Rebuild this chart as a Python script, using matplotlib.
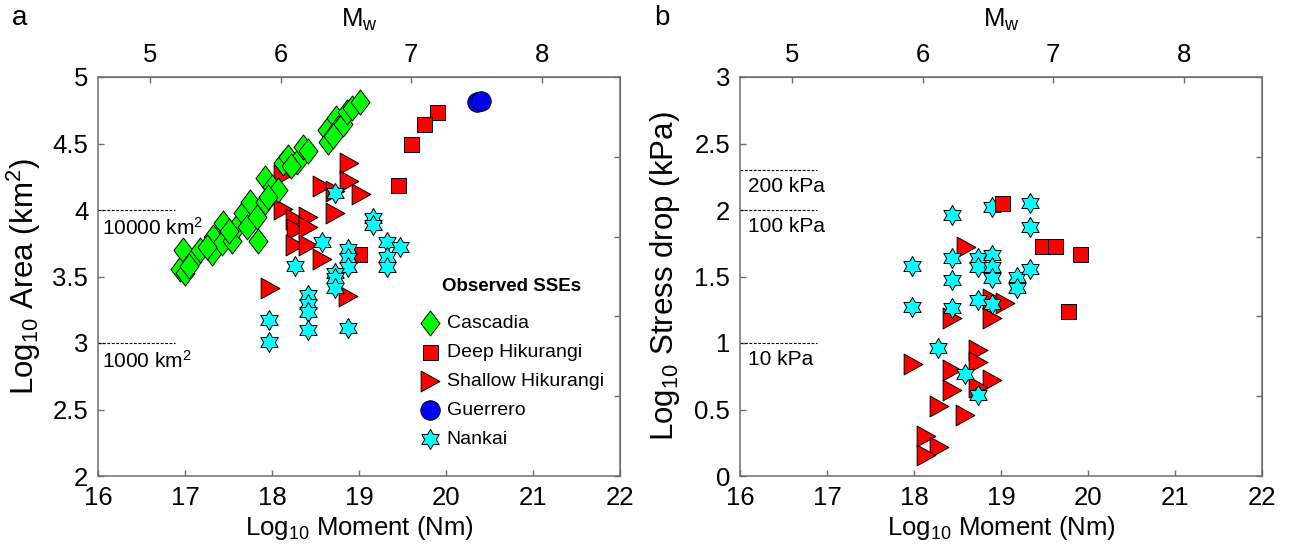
import numpy as np
import matplotlib
matplotlib.use("Agg")
import matplotlib.pyplot as plt
from matplotlib.path import Path

plt.rcParams['font.family'] = ['Liberation Sans', 'DejaVu Sans']
plt.rcParams['mathtext.default'] = 'regular'

# ---------------- data (panel a: log10 moment vs log10 area) ----------------
casc_m = [16.94, 17.00, 16.98, 17.08, 17.17, 17.31, 17.32, 17.43, 17.44, 17.54,
          17.61, 17.67, 17.71, 17.75, 17.83, 17.84, 17.92, 17.92, 18.00, 18.07,
          18.13, 18.18, 18.29, 18.36, 18.41, 18.63, 18.64, 18.74, 18.76, 18.82,
          18.86, 18.92, 19.01, 17.05, 17.25, 17.50, 17.95, 18.22, 18.70]
casc_a = [3.56, 3.53, 3.70, 3.62, 3.70, 3.68, 3.80, 3.75, 3.90, 3.77,
          3.89, 3.98, 3.87, 4.06, 3.95, 3.77, 4.06, 4.24, 4.17, 4.15,
          4.35, 4.40, 4.36, 4.47, 4.44, 4.60, 4.51, 4.69, 4.62, 4.65,
          4.74, 4.77, 4.81, 3.58, 3.72, 3.84, 4.10, 4.33, 4.56]

deep_m_a = [19.90, 19.75, 19.60, 19.45, 19.00]
deep_a = [4.74, 4.65, 4.50, 4.19, 3.67]

shal_m_a = [18.13, 18.13, 18.26, 18.28, 18.41, 18.41, 18.26, 18.41, 18.57,
            18.72, 18.72, 18.89, 18.89, 19.02, 18.57, 17.98, 18.87]
shal_a = [4.26, 4.01, 3.93, 3.86, 3.95, 3.87, 3.74, 3.74, 4.18,
          4.14, 3.98, 4.35, 4.22, 4.12, 3.63, 3.41, 3.35]

guer_m = [20.36, 20.40]
guer_a = [4.81, 4.82]

nank_m_a = [18.72, 19.16, 19.16, 18.57, 18.26, 18.87, 18.87, 18.87, 18.72, 18.72,
            18.72, 19.32, 19.47, 19.32, 19.32, 18.41, 18.41, 18.41, 18.41, 17.97,
            17.97, 18.87]
nank_a = [4.13, 3.94, 3.89, 3.76, 3.58, 3.71, 3.64, 3.57, 3.53, 3.49,
          3.41, 3.76, 3.72, 3.65, 3.57, 3.36, 3.29, 3.23, 3.10, 3.17,
          3.01, 3.11]

# ---------------- data (panel b: log10 moment vs log10 stress drop) ----------------
deep_m_b = [19.01, 19.47, 19.62, 19.91, 19.77]
deep_s = [2.05, 1.73, 1.73, 1.67, 1.24]

shal_m_b = [18.60, 18.90, 19.05, 18.90, 18.44, 17.99, 18.44, 18.74, 18.74,
            18.90, 18.44, 18.74, 18.29, 18.59, 18.14, 18.29, 18.14]
shal_s = [1.72, 1.33, 1.30, 1.19, 1.19, 0.84, 0.80, 0.95, 0.86,
          0.72, 0.65, 0.67, 0.53, 0.46, 0.30, 0.22, 0.16]

nank_m_b = [17.98, 17.98, 18.44, 18.44, 18.44, 18.44, 18.90, 19.33, 19.33, 18.74,
            18.74, 18.90, 18.90, 18.90, 19.18, 19.18, 19.33, 18.74, 18.90, 18.28,
            18.59, 18.74]
nank_s = [1.58, 1.27, 1.96, 1.64, 1.47, 1.26, 2.02, 2.05, 1.87, 1.64,
          1.57, 1.66, 1.57, 1.49, 1.50, 1.41, 1.56, 1.32, 1.29, 0.96,
          0.77, 0.61]

xticks = [16, 17, 18, 19, 20, 21, 22]
mw_ticks = [5, 6, 7, 8]
yticks_a = [2, 2.5, 3, 3.5, 4, 4.5, 5]
yticks_b = [0, 0.5, 1, 1.5, 2, 2.5, 3]
area_refs = [4.0, 3.0]
area_ref_labels = ['10000 km$^2$', '1000 km$^2$']
stress_refs = [np.log10(200), 2.0, 1.0]
stress_ref_labels = ['200 kPa', '100 kPa', '10 kPa']

# ---------------- marker shapes ----------------
def star6():
    ang = np.pi / 2 + np.arange(12) * np.pi / 6
    r = np.where(np.arange(12) % 2 == 0, 1.0, 1 / np.sqrt(3))
    v = np.column_stack([r * np.cos(ang), r * np.sin(ang)])
    v = np.vstack([v, v[:1]])
    return Path(v, [Path.MOVETO] + [Path.LINETO] * 11 + [Path.CLOSEPOLY])

def diamond():
    v = [(0, 1), (0.76, 0), (0, -1), (-0.76, 0), (0, 1)]
    return Path(v, [Path.MOVETO] + [Path.LINETO] * 3 + [Path.CLOSEPOLY])

def tri_right():
    v = [(-0.9, -1), (0.9, 0), (-0.9, 1), (-0.9, -1)]
    return Path(v, [Path.MOVETO] + [Path.LINETO] * 2 + [Path.CLOSEPOLY])

STAR, DIAM, TRI = star6(), diamond(), tri_right()
EW = 0.7
S_D, S_SQ, S_TRI, S_C, S_ST = 18.0, 10.8, 15.0, 14.0, 14.4

W, H = 1298, 551
fig = plt.figure(figsize=(W / 100, H / 100), dpi=100)
spine_col = '#6e6e6e'
TICK_FS = 18.5
XLABEL_FS = 18.5
YLABEL_FS = 22.5


def m2mw(x):
    return (np.asarray(x) - 9.1) * 2.0 / 3.0


def mw2m(x):
    return np.asarray(x) * 1.5 + 9.1


def style_axes(ax, yticks, ylim, ylabel, ylab_x):
    ax.set_xlim(16, 22)
    ax.set_ylim(*ylim)
    ax.set_xticks(xticks)
    ax.set_yticks(yticks)
    ax.set_yticklabels([f'{t:g}' for t in yticks])
    for s in ax.spines.values():
        s.set_color(spine_col)
        s.set_linewidth(1.1)
    ax.tick_params(direction='in', length=4, width=1, color=spine_col,
                   labelsize=TICK_FS, pad=7, top=False, right=False)
    ax.set_xlabel('Log$_{10}$ Moment (Nm)', fontsize=XLABEL_FS)
    ax.set_ylabel(ylabel, fontsize=YLABEL_FS)
    ax.xaxis.set_label_coords(0.5, -0.095)
    ax.yaxis.set_label_coords(ylab_x, 0.5)
    top = ax.secondary_xaxis('top', functions=(m2mw, mw2m))
    top.set_xticks(mw_ticks)
    top.tick_params(direction='in', length=4, width=1, color=spine_col,
                    labelsize=TICK_FS, pad=7)
    top.spines['top'].set_color(spine_col)
    top.set_xlabel('M$_w$', fontsize=XLABEL_FS, labelpad=12)
    y0, y1 = ylim
    right = ax.secondary_yaxis('right', functions=(lambda y: (y - y0) / (y1 - y0),
                                                   lambda f: y0 + f * (y1 - y0)))
    right.set_yticks([0, 0.2, 0.4, 0.6, 0.8, 1.0])
    right.set_yticklabels([])
    right.tick_params(direction='in', length=4, width=1, color=spine_col)
    right.spines['right'].set_color(spine_col)


def sc(ax, x, y, marker, size, color, label=None, z=3):
    return ax.scatter(x, y, marker=marker, s=size ** 2, facecolor=color,
                      edgecolor='k', linewidths=EW, label=label, zorder=z)


# ---------------- panel a ----------------
axa = fig.add_axes([98 / W, 75 / H, 522 / W, 399 / H])
style_axes(axa, yticks_a, (2, 5), 'Log$_{10}$ Area (km$^2$)', -0.106)
h_deep = sc(axa, deep_m_a, deep_a, 's', S_SQ, '#ff0000', 'Deep Hikurangi', 3)
h_shal = sc(axa, shal_m_a, shal_a, TRI, S_TRI, '#ff0000', 'Shallow Hikurangi', 4)
h_casc = sc(axa, casc_m, casc_a, DIAM, S_D, '#00ff00', 'Cascadia', 5)
h_guer = sc(axa, guer_m, guer_a, 'o', S_C, '#0000ff', 'Guerrero', 6)
h_nank = sc(axa, nank_m_a, nank_a, STAR, S_ST, '#00ffff', 'Nankai', 7)

for yv, lab in zip(area_refs, area_ref_labels):
    axa.plot([16, 16.89], [yv, yv], color='k', lw=0.8, ls=(0, (2.5, 1.5)), zorder=2)
    axa.text(16.05, yv - 0.05, lab, fontsize=15, va='top', ha='left')

leg = axa.legend(handles=[h_casc, h_deep, h_shal, h_guer, h_nank],
                 title='Observed SSEs', loc='center', bbox_to_anchor=(0.793, 0.283),
                 frameon=False, fontsize=14, scatterpoints=1, handlelength=1.0,
                 handletextpad=0.35, labelspacing=0.58, borderpad=0)
leg.get_title().set_fontweight('bold')
leg.get_title().set_fontsize(13.5)
leg._legend_box.sep = 14

# ---------------- panel b ----------------
axb = fig.add_axes([740 / W, 75 / H, 522 / W, 399 / H])
style_axes(axb, yticks_b, (0, 3), 'Log$_{10}$ Stress drop (kPa)', -0.112)
sc(axb, shal_m_b, shal_s, TRI, S_TRI, '#ff0000', None, 3)
sc(axb, nank_m_b, nank_s, STAR, S_ST, '#00ffff', None, 4)
sc(axb, deep_m_b, deep_s, 's', S_SQ, '#ff0000', None, 5)

for yv, lab in zip(stress_refs, stress_ref_labels):
    axb.plot([16, 16.88], [yv, yv], color='k', lw=0.8, ls=(0, (2.5, 1.5)), zorder=2)
    axb.text(16.09, yv - 0.05, lab, fontsize=15, va='top', ha='left')

fig.text(20 / W, 1 - 18 / H, 'a', fontsize=20, ha='center', va='center')
fig.text(662 / W, 1 - 18 / H, 'b', fontsize=20, ha='center', va='center')

fig.savefig('out.png', dpi=100)
